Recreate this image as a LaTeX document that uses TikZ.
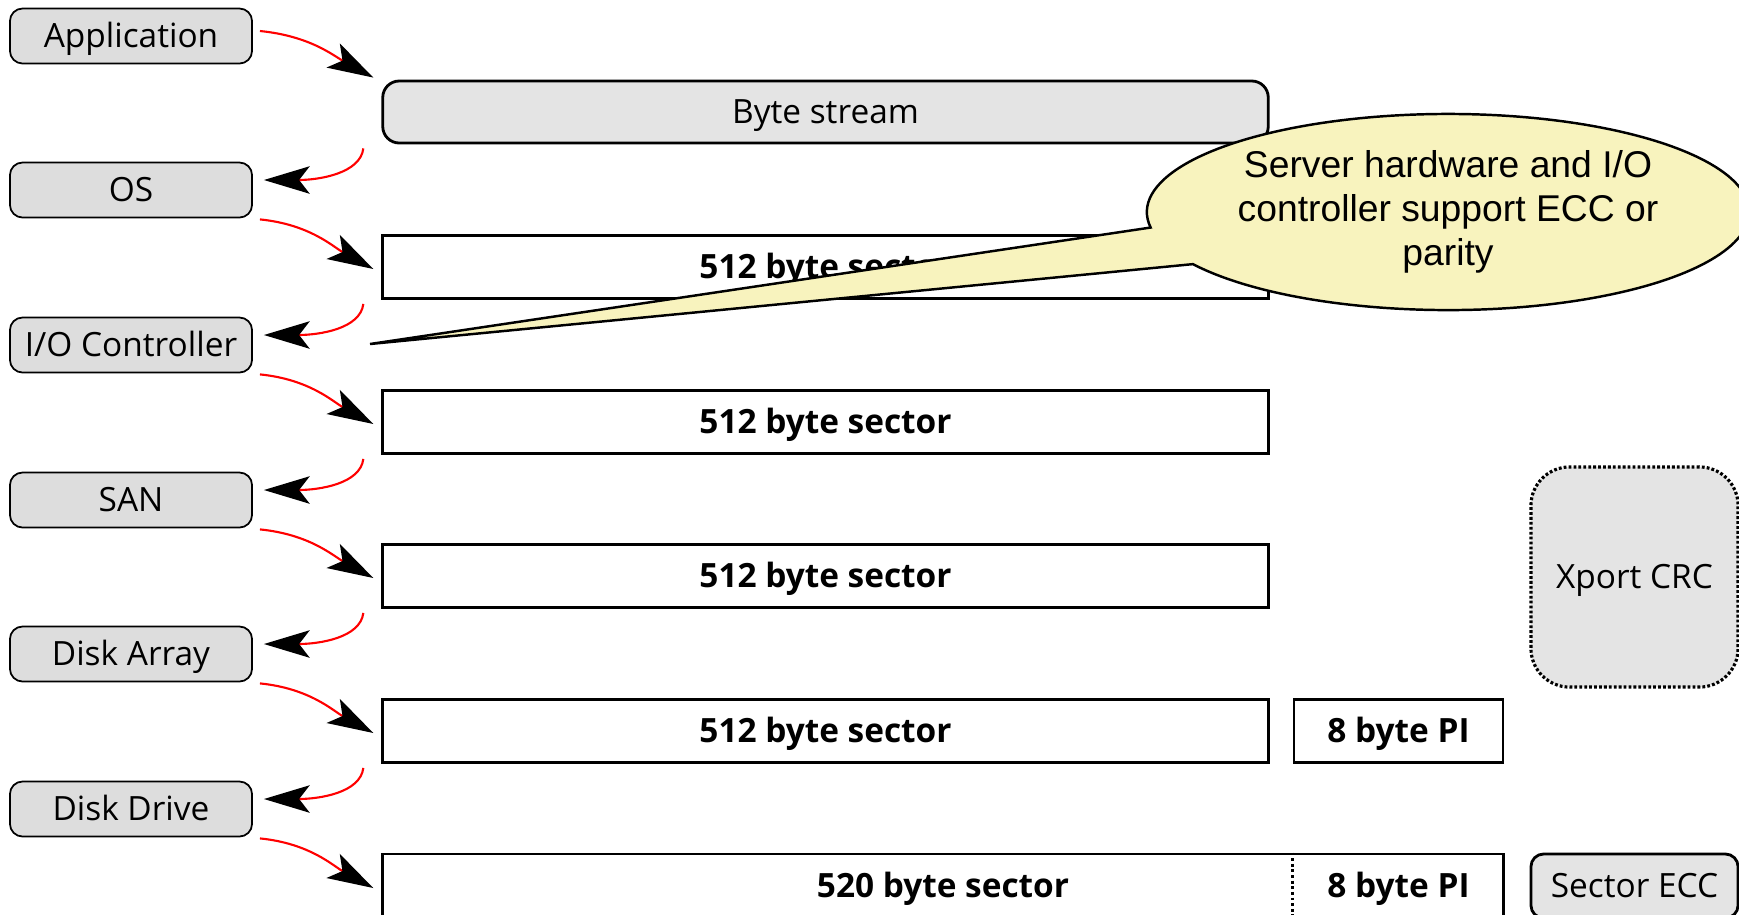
\documentclass[tikz,border=0pt]{standalone}
\usepackage{fontspec}
\setmainfont{Open Sans}
\newfontfamily\notefont{Liberation Sans}
\usetikzlibrary{arrows.meta,shapes.callouts}
\definecolor{layergray}{RGB}{221,221,221}
\definecolor{streamgray}{RGB}{228,228,228}
\definecolor{noteyellow}{RGB}{248,243,190}
\newcommand{\labelsize}{\fontsize{9.5}{11.5}\selectfont}

\begin{document}
\begin{tikzpicture}[x=0.01cm, y=-0.01cm]
  \tikzset{
    every node/.style={text height=9pt, text depth=2.3pt, inner ysep=1pt},
    layer/.style={draw, fill=layergray, rounded corners=3.6pt, line width=0.5pt,
      minimum width=2.42cm, minimum height=0.55cm, font=\labelsize},
    sector/.style={draw, line width=0.8pt, minimum width=8.85cm,
      minimum height=0.63cm, font=\labelsize\bfseries},
    extra/.style={draw, fill=streamgray, line width=0.8pt, minimum width=2.07cm,
      font=\labelsize},
    fwd/.style={red, line width=0.6pt,
      -{Stealth[length=13pt, width=7.8pt, inset=3pt, color=black]}},
    back/.style={fwd}
  }
  \useasboundingbox (0,0) rectangle (1739,914);
  \clip (0,0) rectangle (1739,914);

  % layers
  \node[layer] (app)   at (131,36)  {Application};
  \node[layer] (os)    at (131,190) {OS};
  \node[layer] (ioc)   at (131,345) {I/O Controller};
  \node[layer] (san)   at (131,500) {SAN};
  \node[layer] (array) at (131,654) {Disk Array};
  \node[layer] (drive) at (131,809) {Disk Drive};

  % data format at each step
  \node[sector, fill=streamgray, rounded corners=4.7pt, minimum height=0.62cm,
    font=\labelsize] (bytes) at (825.5,112) {Byte stream};
  \node[sector] (sec1) at (825.5,267) {512 byte sector};
  \node[sector] (sec2) at (825.5,422) {512 byte sector};
  \node[sector] (sec3) at (825.5,576) {512 byte sector};
  \node[sector] (sec4) at (825.5,731) {512 byte sector};
  \node[sector, minimum width=2.09cm] (pi) at (1398.5,731) {8 byte PI};
  \node[sector, minimum width=11.2cm, minimum height=0.64cm] (sec5) at (943,886) {520 byte sector};
  \node[font=\labelsize\bfseries] (pi2) at (pi |- sec5) {8 byte PI};
  \draw[line width=0.8pt, dash pattern=on 0.8pt off 0.8pt]
    (pi.west |- sec5.north) -- (pi.west |- sec5.south);

  % checks
  \node[extra, rounded corners=11pt, line width=0.9pt, dash pattern=on 0.8pt off 0.6pt,
    minimum height=2.2cm] (crc) at (1634.5,577) {Xport CRC};
  \node[extra, rounded corners=3.6pt, minimum height=0.64cm] (ecc) at (1634.5,886) {Sector ECC};

  % hand-offs
  \draw[fwd] ([shift={(7,-5)}]app.east) .. controls +(50,5) and +(-40,-22)
    .. ([shift={(-8,-2)}]bytes.north west);
  \foreach \from/\to in {os/sec1, ioc/sec2, san/sec3, array/sec4, drive/sec5}
    \draw[fwd] ([shift={(7,1)}]\from.south east) .. controls +(50,5) and +(-40,-22)
      .. ([shift={(-8,2)}]\to.west);
  \foreach \from/\to in {bytes/os, sec1/ioc, sec2/san, sec3/array, sec4/drive}
    \draw[back] ([shift={(-18,4)}]\from.south west) .. controls +(-3,25) and +(55,0)
      .. ([shift={(11,-10)}]\to.east);

  % note
  \coordinate (tip) at (370,344);
  \node[ellipse callout, draw, fill=noteyellow, line width=0.7pt, inner sep=0pt,
    text height=, text depth=,
    minimum width=6.02cm, minimum height=1.96cm,
    callout absolute pointer={(tip)}, callout pointer arc=23, align=center,
    font=\notefont\fontsize{10.6}{12.6}\selectfont] (note) at (1448,212)
    {Server hardware and I/O\\controller support ECC or\\parity};
\end{tikzpicture}
\end{document}
